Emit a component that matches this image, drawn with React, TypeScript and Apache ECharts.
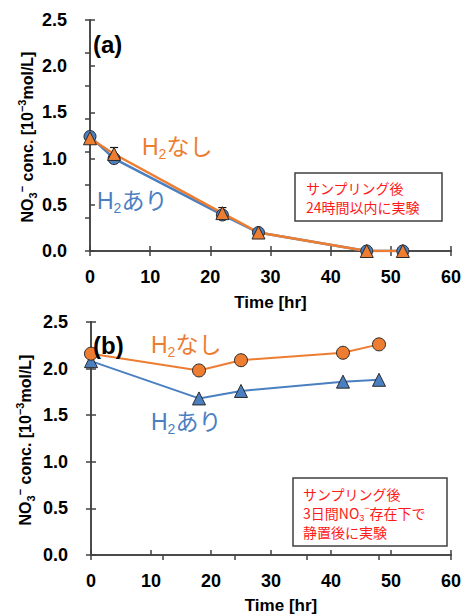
import React, { useEffect, useRef } from "react";
import * as echarts from "echarts";

// ---- data ----
const timeA = [0, 4, 22, 28, 46, 52];
const aAri = [1.24, 1.0, 0.39, 0.2, 0.0, 0.0];
const aNashi = [1.22, 1.05, 0.41, 0.2, 0.0, 0.0];
const aAriErr = [0, 0, 0.04, 0, 0, 0];
const aNashiErr = [0, 0.07, 0.06, 0.03, 0, 0];

const timeB = [0, 18, 25, 42, 48];
const bNashi = [2.16, 1.98, 2.09, 2.17, 2.26];
const bAri = [2.08, 1.68, 1.76, 1.86, 1.88];
const bNashiErr = [0, 0, 0.05, 0.03, 0];
const bAriErr = [0, 0, 0, 0, 0];

const xTicks = [0, 10, 20, 30, 40, 50, 60];
const yTicks = [0, 0.5, 1.0, 1.5, 2.0, 2.5];

const ORANGE = "#ED7D31";
const BLUE = "#4A7FC1";
const FRAME = "#404040";
const RED = "#FF1A1A";
const LATIN = "'Liberation Sans', Arial, sans-serif";
const JP = "'Liberation Sans', 'Noto Sans CJK JP', sans-serif";

function errData(t: number[], v: number[], e: number[]) {
  return t.map((x, i) => [x, v[i], e[i]]).filter((d) => d[2] > 0);
}

function errSeries(xi: number, yi: number, data: number[][]) {
  return {
    type: "custom",
    xAxisIndex: xi,
    yAxisIndex: yi,
    data,
    z: 1,
    renderItem: (params: any, api: any) => {
      const x = api.value(0);
      const y = api.value(1);
      const e = api.value(2);
      const top = api.coord([x, y + e]);
      const bot = api.coord([x, y - e]);
      const w = 4;
      const st = { stroke: "#111", lineWidth: 1.2 };
      return {
        type: "group",
        children: [
          { type: "line", shape: { x1: top[0], y1: top[1], x2: bot[0], y2: bot[1] }, style: st },
          { type: "line", shape: { x1: top[0] - w, y1: top[1], x2: top[0] + w, y2: top[1] }, style: st },
          { type: "line", shape: { x1: bot[0] - w, y1: bot[1], x2: bot[0] + w, y2: bot[1] }, style: st },
        ],
      };
    },
  };
}

function h2Label(kana: string, color: string, x: number, y: number) {
  return {
    type: "text",
    x,
    y,
    z: 10,
    style: {
      text: `{m|H}{s|2}{m|${kana}}`,
      align: "left",
      verticalAlign: "middle",
      rich: {
        m: { fontSize: 23, fontFamily: JP, fill: color, lineHeight: 28 },
        s: { fontSize: 14, fontFamily: LATIN, fill: color, lineHeight: 14, verticalAlign: "bottom" },
      },
    },
  };
}

function yTitle(x: number, y: number) {
  return {
    type: "text",
    x,
    y,
    rotation: Math.PI / 2,
    style: {
      text: "{m|NO}{s|3}{p|−}{m| conc. [10}{p|−3}{m|mol/L]}",
      align: "center",
      verticalAlign: "middle",
      rich: {
        m: { fontSize: 16, fontWeight: "bold", fontFamily: LATIN, fill: "#000", lineHeight: 22 },
        s: { fontSize: 11, fontWeight: "bold", fontFamily: LATIN, fill: "#000", lineHeight: 11, verticalAlign: "bottom" },
        p: { fontSize: 11, fontWeight: "bold", fontFamily: LATIN, fill: "#000", lineHeight: 11, verticalAlign: "top" },
      },
    },
  };
}

function redBlock(text: string, x: number, y: number, lh: number) {
  return {
    type: "text",
    x,
    y,
    z: 10,
    style: {
      text,
      align: "left",
      verticalAlign: "top",
      rich: {
        r: { fontSize: 14, fontFamily: "'Noto Sans CJK JP', sans-serif", fill: RED, lineHeight: lh },
        s: { fontSize: 9, fontFamily: LATIN, fill: RED, lineHeight: 8, verticalAlign: "bottom" },
        p: { fontSize: 9, fontFamily: LATIN, fill: RED, lineHeight: 8, verticalAlign: "top" },
      },
    },
  };
}

const lineStyleAxis = { show: true, lineStyle: { color: FRAME, width: 1.5 } };
const tickInside = { show: true, inside: true, length: 5, lineStyle: { color: FRAME, width: 1.5 } };

function bottomX(gi: number, gap: number, pad: number[]) {
  return {
    type: "value",
    gridIndex: gi,
    position: "bottom",
    min: xTicks[0],
    max: xTicks[xTicks.length - 1],
    interval: 10,
    axisLine: lineStyleAxis,
    axisTick: tickInside,
    splitLine: { show: false },
    axisLabel: { margin: 17, fontSize: 18, fontWeight: "bold", color: "#000", fontFamily: LATIN },
    name: "Time [hr]",
    nameLocation: "middle",
    nameGap: gap,
    nameTextStyle: { fontSize: 17, fontWeight: "bold", color: "#000", fontFamily: LATIN, padding: pad },
  };
}

function topX(gi: number, max: number, interval: number) {
  return {
    type: "value",
    gridIndex: gi,
    position: "top",
    min: 0,
    max,
    interval,
    axisLine: lineStyleAxis,
    axisTick: tickInside,
    axisLabel: { show: false },
    splitLine: { show: false },
  };
}

function leftY(gi: number) {
  return {
    type: "value",
    gridIndex: gi,
    position: "left",
    min: yTicks[0],
    max: yTicks[yTicks.length - 1],
    interval: 0.5,
    axisLine: lineStyleAxis,
    axisTick: tickInside,
    splitLine: { show: false },
    axisLabel: {
      margin: 23,
      fontSize: 18,
      fontWeight: "bold",
      color: "#000",
      fontFamily: LATIN,
      formatter: (v: number) => v.toFixed(1),
    },
  };
}

function rightY(gi: number, max: number, interval: number) {
  return {
    type: "value",
    gridIndex: gi,
    position: "right",
    min: 0,
    max,
    interval,
    axisLine: lineStyleAxis,
    axisTick: tickInside,
    axisLabel: { show: false },
    splitLine: { show: false },
  };
}

function lineSeries(xi: number, yi: number, t: number[], v: number[], color: string, symbol: string, size: number, width: number) {
  return {
    type: "line",
    xAxisIndex: xi,
    yAxisIndex: yi,
    data: t.map((x, i) => [x, v[i]]),
    symbol,
    symbolSize: size,
    showAllSymbol: true,
    lineStyle: { color, width },
    itemStyle: { color, borderColor: "#2a2a2a", borderWidth: 1 },
    z: 3,
  };
}

export default function App() {
  const ref = useRef<HTMLDivElement>(null);
  useEffect(() => {
    document.body.style.margin = "0";
    const chart = echarts.init(ref.current!, undefined, { renderer: "svg" });
    chart.setOption({
      animation: false,
      backgroundColor: "#fff",
      grid: [
        { left: 90, top: 20, width: 364, height: 231 },
        { left: 91, top: 322, width: 363, height: 235 },
      ],
      xAxis: [bottomX(0, 43, [0, 0, 0, 0]), topX(0, 60, 10), bottomX(1, 42, [0, 0, 0, 20]), topX(1, 5, 1)],
      yAxis: [leftY(0), rightY(0, 7, 1), leftY(1), rightY(1, 2.5, 0.5)],
      series: [
        errSeries(0, 0, errData(timeA, aAri, aAriErr)),
        errSeries(0, 0, errData(timeA, aNashi, aNashiErr)),
        lineSeries(0, 0, timeA, aAri, BLUE, "circle", 12, 2.5),
        lineSeries(0, 0, timeA, aNashi, ORANGE, "triangle", 13, 2.5),
        errSeries(2, 2, errData(timeB, bNashi, bNashiErr)),
        errSeries(2, 2, errData(timeB, bAri, bAriErr)),
        lineSeries(2, 2, timeB, bAri, BLUE, "triangle", 13, 2),
        lineSeries(2, 2, timeB, bNashi, ORANGE, "circle", 13, 2),
      ],
      graphic: [
        yTitle(27, 137),
        yTitle(25, 440),
        { type: "text", x: 93, y: 44, z: 10, style: { text: "(a)", fontSize: 24, fontWeight: "bold", fontFamily: LATIN, fill: "#000", align: "left", verticalAlign: "middle" } },
        { type: "text", x: 93, y: 345, z: 10, style: { text: "(b)", fontSize: 24, fontWeight: "bold", fontFamily: LATIN, fill: "#000", align: "left", verticalAlign: "middle" } },
        h2Label("なし", ORANGE, 142, 147),
        h2Label("あり", BLUE, 97, 201),
        h2Label("なし", ORANGE, 151, 345),
        h2Label("あり", BLUE, 151, 422),
        { type: "rect", z: 9, shape: { x: 295, y: 173, width: 147, height: 48 }, style: { fill: "#fff", stroke: FRAME, lineWidth: 1.5 } },
        redBlock("{r|サンプリング後}\n{r|24時間以内に実験}", 306, 178.5, 19),
        { type: "rect", z: 9, shape: { x: 293, y: 478, width: 154, height: 68 }, style: { fill: "#fff", stroke: FRAME, lineWidth: 1.5 } },
        redBlock("{r|サンプリング後}\n{r|3日間NO}{s|3}{p|−}{r|存在下で}\n{r|静置後に実験}", 303, 484, 19),
      ],
    });
    return () => chart.dispose();
  }, []);
  return <div ref={ref} style={{ position: "fixed", left: 0, top: 0, width: 464, height: 615 }} />;
}
